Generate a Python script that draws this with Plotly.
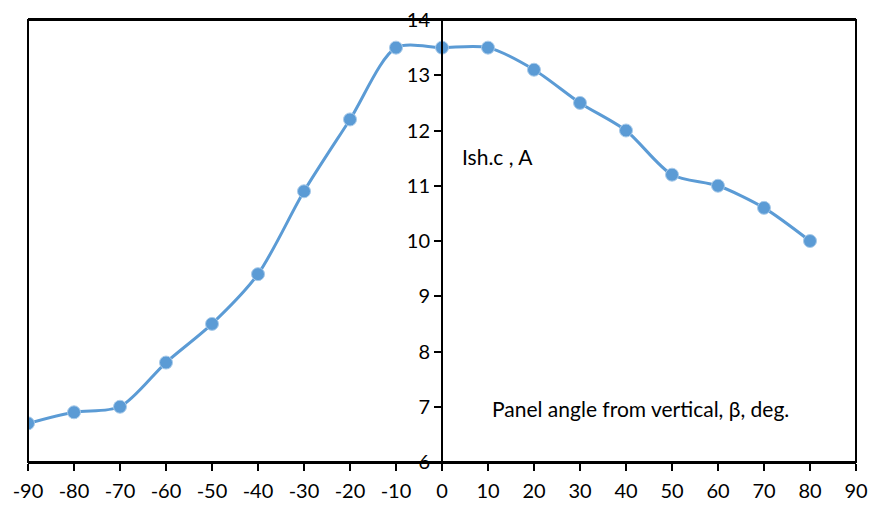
import plotly.graph_objects as go

angles = [-90, -80, -70, -60, -50, -40, -30, -20, -10, 0, 10, 20, 30, 40, 50, 60, 70, 80]
current = [6.7, 6.9, 7.0, 7.8, 8.5, 9.4, 10.9, 12.2, 13.5, 13.5, 13.5, 13.1, 12.5, 12.0, 11.2, 11.0, 10.6, 10.0]
x_ticks = list(range(-90, 91, 10))
y_ticks = list(range(6, 15))

FONT = "Lato"

fig = go.Figure()
fig.add_trace(go.Scatter(
    x=angles, y=current, mode="lines+markers",
    line=dict(color="#5B9BD5", width=3, shape="spline", smoothing=0.8),
    marker=dict(color="#5B9BD5", size=13, line=dict(color="#A9CBEA", width=1)),
    showlegend=False, hoverinfo="skip",
))

fig.update_layout(
    width=871, height=505,
    margin=dict(l=28, r=15, t=20, b=43),
    paper_bgcolor="white", plot_bgcolor="white",
    font=dict(family=FONT, size=20, color="black"),
    xaxis=dict(range=[-90, 90], tickvals=x_ticks, ticktext=[str(v) for v in x_ticks],
               showgrid=False, zeroline=False, showline=True, linecolor="black", linewidth=2,
               ticks="outside", ticklen=7, tickwidth=1.5, tickcolor="black",
               ticklabelstandoff=3,
               tickfont=dict(family=FONT, size=20), mirror=True, automargin=False),
    yaxis=dict(range=[6, 14], tickvals=y_ticks, ticktext=[str(v) for v in y_ticks],
               anchor="free", position=0.5, automargin=False,
               showgrid=False, zeroline=False, showline=True, linecolor="black", linewidth=2,
               ticks="outside", ticklen=7, tickwidth=1.5, tickcolor="black",
               ticklabeloverflow="allow",
               tickfont=dict(family=FONT, size=20)),
    shapes=[dict(type="rect", xref="paper", yref="paper", x0=0, y0=0, x1=1, y1=1,
                 line=dict(color="black", width=2), layer="above")],
    annotations=[
        dict(x=4, y=11.53, xref="x", yref="y", text="Ish.c , A", showarrow=False,
             xanchor="left", yanchor="middle", font=dict(family=FONT, size=21)),
        dict(x=10.4, y=6.96, xref="x", yref="y", text="Panel angle from vertical, β, deg.",
             showarrow=False, xanchor="left", yanchor="middle", font=dict(family=FONT, size=21)),
    ],
)

fig.write_html("out.html", config={"displayModeBar": False},
               post_script="document.body.style.margin='0';document.body.style.overflow='hidden';")
